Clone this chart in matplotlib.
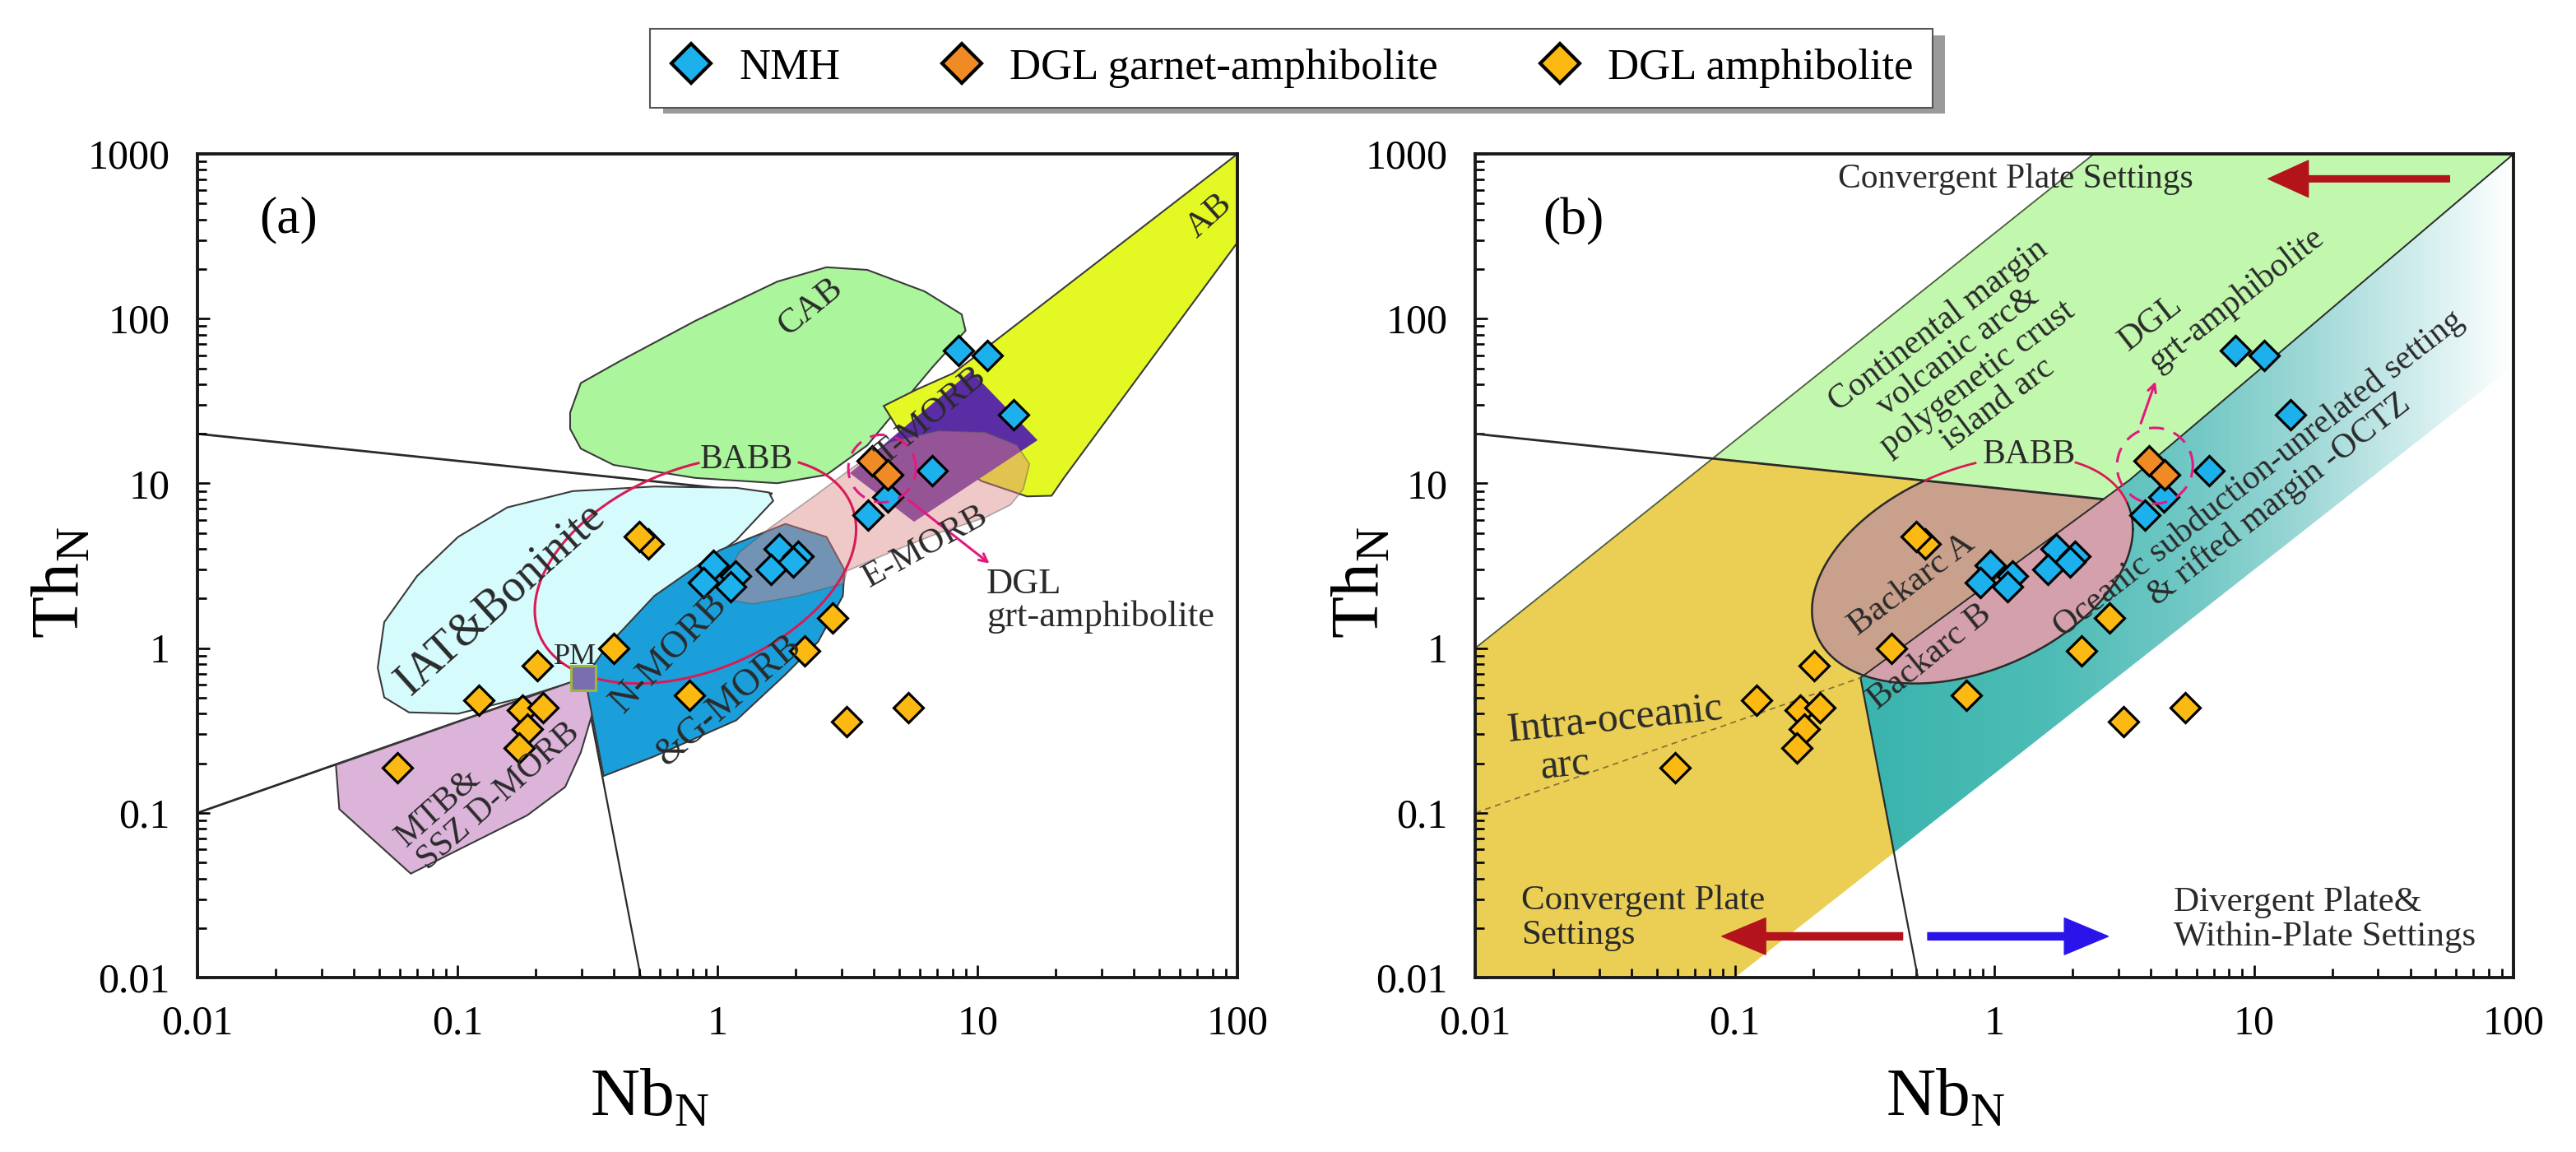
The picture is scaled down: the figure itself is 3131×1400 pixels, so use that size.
import numpy as np
import matplotlib
matplotlib.use("Agg")
import matplotlib.pyplot as plt
from matplotlib.patches import Polygon, Rectangle
from matplotlib.lines import Line2D
from matplotlib.colors import LinearSegmentedColormap
from matplotlib.ticker import FixedLocator, LogLocator, NullFormatter

plt.rcParams["font.family"] = ["Liberation Serif", "DejaVu Serif"]
plt.rcParams["mathtext.fontset"] = "custom"
plt.rcParams["mathtext.rm"] = "Liberation Serif"

# ---- samples (Nb_N, Th_N) ----
nmh_nb = [8.45, 10.9, 13.8, 6.7, 4.5, 3.8, 1.73, 2.04, 1.95, 1.61, 0.96, 1.17, 0.88, 1.12]
nmh_th = [64.0, 60.0, 26.0, 12.0, 8.3, 6.4, 4.0, 3.6, 3.35, 3.0, 3.2, 2.75, 2.5, 2.35]
grt_nb = [3.93, 4.52]
grt_th = [13.7, 11.3]
amph_nb = [0.54, 0.50, 2.77, 2.16, 0.78, 3.14, 5.41, 0.40, 0.202, 0.121, 0.178,
           0.213, 0.185, 0.173, 0.0587]
amph_th = [4.28, 4.78, 1.52, 0.957, 0.516, 0.356, 0.434, 1.0, 0.78, 0.482, 0.422,
           0.435, 0.324, 0.249, 0.188]

series_names = ["NMH", "DGL garnet-amphibolite", "DGL amphibolite"]
series_colors = ["#1cb0ec", "#f08a24", "#fcb912"]

x_ticks = [0.01, 0.1, 1, 10, 100]
x_tick_labels = ["0.01", "0.1", "1", "10", "100"]
y_ticks = [0.01, 0.1, 1, 10, 100, 1000]
y_tick_labels = ["0.01", "0.1", "1", "10", "100", "1000"]

# primitive mantle reference point
pm_nb, pm_th = 0.305, 0.66

# ---- field boundaries, log10(Nb_N), log10(Th_N) ----
cab_log = [(-0.567, 1.430), (-0.526, 1.609), (-0.369, 1.748), (-0.085, 1.987), (0.230, 2.225),
           (0.419, 2.312), (0.576, 2.296), (0.797, 2.165), (0.939, 2.026), (0.954, 1.927),
           (0.828, 1.708), (0.702, 1.470), (0.576, 1.231), (0.419, 1.052), (0.230, 1.001),
           (-0.085, 1.033), (-0.400, 1.112), (-0.526, 1.211), (-0.567, 1.331)]
ab_log = [(2.0, 3.0), (2.0, 2.463), (1.332, 1.033), (1.285, 0.925), (1.19, 0.921),
          (1.017, 1.013), (0.702, 1.311), (0.639, 1.470), (0.765, 1.569), (0.907, 1.669)]
iat_log = [(-1.307, -0.120), (-1.282, 0.158), (-1.156, 0.437), (-0.998, 0.675), (-0.809, 0.854),
           (-0.557, 0.953), (-0.243, 0.981), (0.072, 0.973), (0.198, 0.945), (0.214, 0.894),
           (0.072, 0.655), (-0.148, 0.397), (-0.369, 0.079), (-0.510, -0.180), (-0.746, -0.299),
           (-0.998, -0.398), (-1.187, -0.390), (-1.282, -0.299)]
mtb_log = [(-1.468, -0.709), (-0.516, -0.180), (-0.483, -0.212), (-0.483, -0.404),
           (-0.526, -0.633), (-0.586, -0.843), (-0.732, -1.015), (-0.974, -1.206),
           (-1.180, -1.369), (-1.455, -0.977)]
nmorb_log = [(-0.510, -0.180), (-0.438, -0.776), (-0.243, -0.657), (0.072, -0.438), (0.261, -0.160),
             (0.387, 0.039), (0.482, 0.317), (0.488, 0.476), (0.419, 0.675), (0.261, 0.754),
             (0.009, 0.595), (-0.243, 0.317), (-0.431, 0.0)]
tmorb_log = [(0.975, 1.681), (1.231, 1.262), (0.756, 0.767), (0.509, 1.062)]
emorb_log = [(0.037, 0.296), (0.025, 0.430), (0.085, 0.583), (0.207, 0.736), (0.376, 0.927),
             (0.522, 1.099), (0.667, 1.252), (0.849, 1.319), (1.030, 1.310), (1.151, 1.233),
             (1.200, 1.118), (1.176, 0.965), (1.127, 0.870), (1.030, 0.793), (0.849, 0.698),
             (0.667, 0.583), (0.497, 0.468), (0.485, 0.392), (0.304, 0.315), (0.134, 0.268)]

# panel (b) settings fields
gold_log = [(-2.0, 0.0), (-1.086, 1.151), (0.418, 0.904), (-0.516, -0.180), (-0.387, -1.241),
            (-1.0, -2.0), (-2.0, -2.0)]
green_log = [(-1.086, 1.151), (0.383, 3.0), (2.0, 3.0), (0.52, 1.02), (0.418, 0.904)]
teal_log = [(-0.516, -0.180), (0.418, 0.904), (0.52, 1.02), (2.0, 3.0), (2.0, 1.714),
            (-0.387, -1.241)]
backarc_b_log = [(-1.0, -0.741), (1.0, 1.576), (1.5, -1.5)]
band_top_log = [(-2.0, 0.0), (0.383, 3.0)]
divider_log = [(-0.516, -0.180), (0.52, 1.02), (2.0, 3.0)]

# common lines
line20_log = [(-2.0, 1.301), (0.418, 0.904)]
line20a_log = [(-2.0, 1.301), (0.207, 0.938)]
line_low_log = [(-2.0, -1.0), (-0.516, -0.180)]
line_down_log = [(-0.516, -0.180), (-0.295, -2.0)]

# BABB ellipse (log space): centre, two half-axis vectors
babb_center = (-0.085, 0.475)
babb_vec_a = (0.618, 0.247)
babb_vec_b = (0.0, 0.644)

# dashed circles around the DGL garnet-amphibolites
circle_a = (0.633, 1.090, 0.13, 0.205)
circle_b = (0.618, 1.107, 0.146, 0.23)


def to_xy(pts):
    return np.power(10.0, np.asarray(pts, dtype=float))


def add_field(ax, pts, fc, ec="#3a3a3a", lw=1.5, alpha=1.0, z=2):
    p = Polygon(to_xy(pts), closed=True, facecolor=fc, edgecolor=ec, lw=lw,
                alpha=alpha, zorder=z)
    ax.add_patch(p)
    return p


def add_line(ax, pts, **kw):
    xy = to_xy(pts)
    ax.plot(xy[:, 0], xy[:, 1], **kw)


def ellipse_log(center, va, vb, n=600):
    t = np.linspace(0, 2 * np.pi, n)
    u = center[0] + va[0] * np.cos(t) + vb[0] * np.sin(t)
    v = center[1] + va[1] * np.cos(t) + vb[1] * np.sin(t)
    return u, v


def dashed_circle(ax, c, color):
    t = np.linspace(0, 2 * np.pi, 200)
    u = c[0] + c[2] * np.cos(t)
    v = c[1] + c[3] * np.sin(t)
    ax.plot(10 ** u, 10 ** v, color=color, lw=2.2, ls=(0, (6, 4)), zorder=22)


def draw_samples(ax):
    for nb, th, col in ((amph_nb, amph_th, series_colors[2]),
                        (nmh_nb, nmh_th, series_colors[0]),
                        (grt_nb, grt_th, series_colors[1])):
        ax.plot(nb, th, ls="none", marker="D", ms=18, mfc=col, mec="black",
                mew=2.3, zorder=20)


def style_axes(ax):
    ax.set_xscale("log")
    ax.set_yscale("log")
    ax.set_xlim(0.01, 100)
    ax.set_ylim(0.01, 1000)
    ax.xaxis.set_major_locator(FixedLocator(x_ticks))
    ax.yaxis.set_major_locator(FixedLocator(y_ticks))
    ax.set_xticklabels(x_tick_labels)
    ax.set_yticklabels(y_tick_labels)
    ax.xaxis.set_minor_locator(LogLocator(base=10, subs=np.arange(2, 10)))
    ax.yaxis.set_minor_locator(LogLocator(base=10, subs=np.arange(2, 10)))
    ax.xaxis.set_minor_formatter(NullFormatter())
    ax.yaxis.set_minor_formatter(NullFormatter())
    ax.tick_params(which="both", direction="in", top=False, right=False, width=1.9)
    ax.tick_params(which="major", length=11, labelsize=36, pad=24)
    ax.tick_params(which="minor", length=8)
    for s in ax.spines.values():
        s.set_linewidth(2.8)
        s.set_color("#1a1a1a")
        s.set_zorder(30)
    ax.set_xlabel(r"Nb$_{\mathregular{N}}$", fontsize=60, va="center", ha="center")
    ax.set_ylabel(r"Th$_{\mathregular{N}}$", fontsize=60, va="center", ha="center")


fig = plt.figure(figsize=(31.31, 14), dpi=100)
ax_a = fig.add_axes([0.0767, 0.1514, 0.4037, 0.7150])
ax_b = fig.add_axes([0.5727, 0.1514, 0.4031, 0.7150])

magenta = "#e4197f"
babb_red = "#d81b55"

# ================= panel (a) =================
ax = ax_a
style_axes(ax)
add_line(ax, line20a_log, color="#2a2a2a", lw=2.0, zorder=1)
add_line(ax, line_low_log, color="#2a2a2a", lw=2.0, zorder=1)
add_line(ax, line_down_log, color="#2a2a2a", lw=1.6, zorder=1)

add_field(ax, cab_log, "#abf59c")
add_field(ax, ab_log, "#e4f923")
add_field(ax, iat_log, "#d5fbfc")
add_field(ax, mtb_log, "#dcb4d9")
add_field(ax, nmorb_log, "#1b9fdb", z=3)
add_field(ax, tmorb_log, "#5a2da5", ec="none", z=3)
add_field(ax, emorb_log, "#dd8585", ec="#555555", lw=1.2, alpha=0.45, z=4)

u, v = ellipse_log(babb_center, babb_vec_a, babb_vec_b)
gap = (u > -0.07) & (u < 0.31) & (v > 0.95)
ax.plot(np.where(gap, np.nan, 10 ** u), 10 ** v, color=babb_red, lw=2.2, zorder=6)

ax.plot([pm_nb], [pm_th], ls="none", marker="s", ms=21, mfc="#7a6db0", mec="#9fb63e",
        mew=2.2, zorder=19)
draw_samples(ax)
dashed_circle(ax, circle_a, magenta)
ax.annotate("", xy=(11.3, 3.2), xytext=(5.33, 8.1),
            arrowprops=dict(arrowstyle="->,head_length=0.7,head_width=0.35",
                            color=magenta, lw=2.2), zorder=22)

txt = dict(ha="center", va="center", rotation_mode="anchor", color="#2a2a2a", zorder=25)
ax.text(0.0223, 398, "(a)", fontsize=46, ha="center", va="center", zorder=25)
ax.text(2.27, 118, "CAB", fontsize=31, rotation=39, **txt)
ax.text(78, 419, "AB", fontsize=31, rotation=42, **txt)
ax.text(0.146, 1.98, "IAT&Boninite", fontsize=40, rotation=42, **txt)
ax.text(1.29, 13.9, "BABB", fontsize=30, rotation=0, **txt)
ax.text(6.6, 25.5, "T-MORB", fontsize=31, rotation=40, **txt)
ax.text(6.3, 4.1, "E-MORB", fontsize=31, rotation=29, **txt)
ax.text(0.65, 0.93, "N-MORB", fontsize=33, rotation=46, **txt)
ax.text(1.1, 0.48, "&G-MORB", fontsize=33, rotation=41, **txt)
ax.text(0.284, 0.88, "PM", fontsize=26, rotation=0, **txt)
ax.text(0.131, 0.148, "MTB&\nSSZ D-MORB", fontsize=30, rotation=41.6,
        multialignment="left", linespacing=1.0, **txt)
ax.text(10.8, 1.94, "DGL\ngrt-amphibolite", fontsize=32, ha="left", va="center",
        linespacing=1.0, color="#2a2a2a", zorder=25)
ax.yaxis.set_label_coords(-0.1306, 0.48)
ax.xaxis.set_label_coords(0.435, -0.147)

# ================= panel (b) =================
ax = ax_b
style_axes(ax)

add_field(ax, gold_log, "#ebcf55", ec="none", z=1)
teal_patch = add_field(ax, teal_log, "none", ec="none", z=1)
teal_cmap = LinearSegmentedColormap.from_list(
    "teal", [(0.0, "#3ab4ad"), (0.375, "#3ab4ad"), (0.55, "#4dbcb6"), (0.7, "#74c9c6"),
             (0.8, "#9dd8d6"), (0.9, "#cdebeb"), (1.0, "#ffffff")])
grad = np.linspace(0, 1, 512)[None, :]
im = ax.imshow(grad, extent=(0, 1, 0, 1), transform=ax.transAxes, aspect="auto",
               cmap=teal_cmap, zorder=1, interpolation="bilinear")
im.set_clip_path(teal_patch)

u, v = ellipse_log(babb_center, babb_vec_a, babb_vec_b)
ell = Polygon(np.column_stack([10 ** u, 10 ** v]), closed=True, facecolor="#c9a08b",
              edgecolor="none", zorder=3)
ax.add_patch(ell)
bpatch = add_field(ax, backarc_b_log, "#d3a0ab", ec="none", z=3)
bpatch.set_clip_path(ell)

add_field(ax, green_log, "#c2f8ae", ec="none", z=4)
add_line(ax, band_top_log, color="#4b5a3e", lw=1.3, zorder=5)
add_line(ax, divider_log, color="#2a2a2a", lw=1.4, zorder=5)
add_line(ax, line20_log, color="#2a2a2a", lw=2.0, zorder=5)
add_line(ax, line_down_log, color="#2a2a2a", lw=1.6, zorder=5)
add_line(ax, line_low_log, color="#8a7236", lw=1.3, ls=(0, (4, 3)), zorder=5)

v20 = 1.301 - (1.301 - 0.904) / 2.418 * (u + 2.0)
above = v > v20
ax.plot(np.where(above, np.nan, 10 ** u), 10 ** v, color="#2a2a2a", lw=1.8, zorder=6)
gap = (u > -0.07) & (u < 0.31)
ax.plot(np.where(above & ~gap, 10 ** u, np.nan), 10 ** v, color=babb_red, lw=2.0, zorder=6)

draw_samples(ax)
dashed_circle(ax, circle_b, magenta)
ax.annotate("", xy=(4.2, 42.8), xytext=(3.64, 22.5),
            arrowprops=dict(arrowstyle="->,head_length=0.7,head_width=0.35",
                            color=magenta, lw=2.2), zorder=22)

ax.text(0.0238, 389, "(b)", fontsize=46, ha="center", va="center", zorder=25)
ax.text(0.249, 706, "Convergent Plate Settings", fontsize=30, ha="left", va="center",
        color="#2a2a2a", zorder=25)
ax.annotate("", xy=(11.1, 706), xytext=(57.8, 706),
            arrowprops=dict(arrowstyle="simple,head_length=1.1,head_width=1.0,tail_width=0.17",
                            fc="#b3141c", ec="#b3141c", mutation_scale=32), zorder=25)
ax.text(0.79, 52.5, "Continental margin\nvolcanic arc&\npolygenetic crust\nisland arc",
        fontsize=30, rotation=37, linespacing=1.05, **txt)
ax.text(4.0, 94.6, "DGL", fontsize=30, rotation=38, **txt)
ax.text(8.55, 130.6, "grt-amphibolite", fontsize=30, rotation=38, **txt)
ax.text(1.36, 14.9, "BABB", fontsize=30, rotation=0, **txt)
ax.text(0.479, 2.44, "Backarc A", fontsize=31, rotation=37, **txt)
ax.text(0.562, 0.883, "Backarc B", fontsize=31, rotation=39, **txt)
ax.text(11.4, 9.55, "Oceanic subduction-unrelated setting\n& rifted margin -OCTZ",
        fontsize=30, rotation=38, linespacing=1.05, **txt)
ax.text(0.0346, 0.366, "Intra-oceanic", fontsize=36, rotation=6, **txt)
ax.text(0.0221, 0.193, "arc", fontsize=36, rotation=6, **txt)
ax.text(0.015, 0.023, "Convergent Plate\nSettings", fontsize=31, ha="left", va="center",
        linespacing=1.1, color="#2a2a2a", zorder=25)
ax.text(4.91, 0.0224, "Divergent Plate&\nWithin-Plate Settings", fontsize=31, ha="left",
        va="center", linespacing=1.1, color="#2a2a2a", zorder=25)
ax.annotate("", xy=(0.0873, 0.0178), xytext=(0.452, 0.0178),
            arrowprops=dict(arrowstyle="simple,head_length=1.2,head_width=1.0,tail_width=0.2",
                            fc="#b3141c", ec="#b3141c", mutation_scale=32), zorder=25)
ax.annotate("", xy=(2.8, 0.0178), xytext=(0.542, 0.0178),
            arrowprops=dict(arrowstyle="simple,head_length=1.2,head_width=1.0,tail_width=0.2",
                            fc="#2a14ea", ec="#2a14ea", mutation_scale=32), zorder=25)
ax.yaxis.set_label_coords(-0.109, 0.48)
ax.xaxis.set_label_coords(0.453, -0.147)

# ================= legend =================
handles = [Line2D([], [], ls="none", marker="D", ms=24, mfc=c, mec="black", mew=3)
           for c in series_colors]
leg = fig.legend(handles, series_names, loc="upper left", bbox_to_anchor=(0.2523, 0.975),
                 borderaxespad=0, ncol=3, frameon=True, fancybox=False, edgecolor="#555555",
                 framealpha=1, fontsize=38, handlelength=1.0, handletextpad=0.6,
                 columnspacing=2.3, borderpad=0.45)
leg.get_frame().set_linewidth(1.5)
fig.canvas.draw()
bb = leg.get_window_extent().transformed(fig.transFigure.inverted())
fig.add_artist(Rectangle((bb.x0 + 0.005, bb.y0 - 0.0057), bb.width, bb.height,
                         transform=fig.transFigure, facecolor="#9a9a9a",
                         edgecolor="none", zorder=leg.get_zorder() - 1))

fig.savefig("out.png", dpi=100)
